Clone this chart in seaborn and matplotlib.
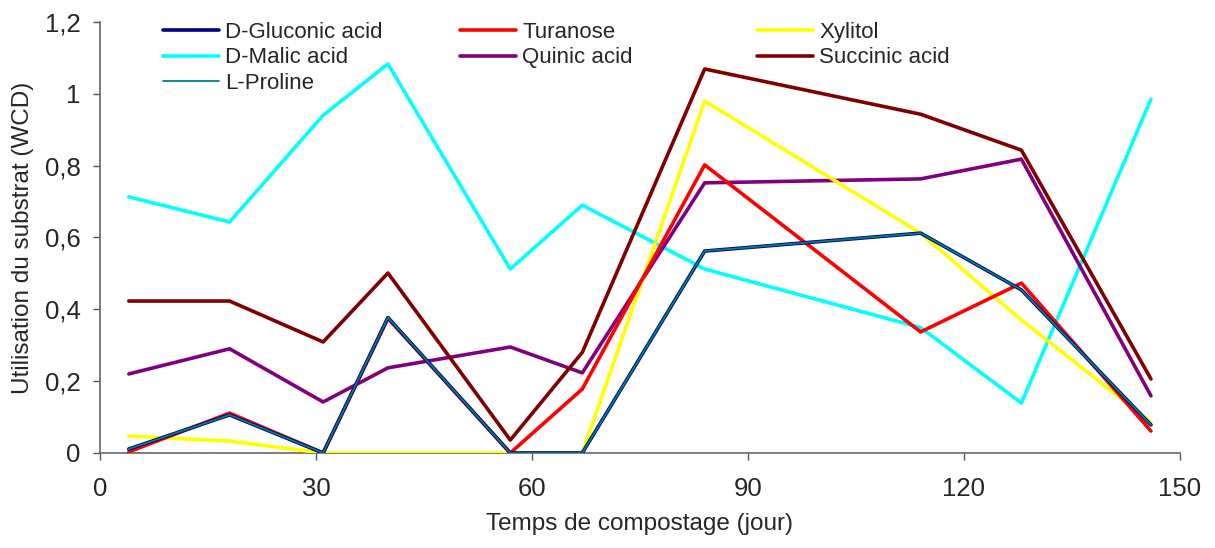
import numpy as np
import pandas as pd
import matplotlib.pyplot as plt
import seaborn as sns
from matplotlib.ticker import FuncFormatter

# compost age (days)
days = [4, 18, 31, 40, 57, 67, 84, 114, 128, 146]

gluconic = [0.011, 0.106, 0.0, 0.377, 0.0, 0.0, 0.562, 0.612, 0.454, 0.078]
turanose = [0.003, 0.111, 0.0, 0.375, 0.0, 0.178, 0.802, 0.337, 0.473, 0.061]
xylitol = [0.047, 0.033, 0.0, 0.0, 0.0, 0.0, 0.980, 0.612, 0.370, 0.086]
malic = [0.713, 0.643, 0.940, 1.083, 0.512, 0.690, 0.512, 0.349, 0.139, 0.985]
quinic = [0.220, 0.290, 0.142, 0.237, 0.295, 0.223, 0.752, 0.763, 0.818, 0.159]
succinic = [0.423, 0.423, 0.309, 0.501, 0.036, 0.280, 1.069, 0.943, 0.843, 0.206]
proline = gluconic

labels = ["D-Gluconic acid", "Turanose", "Xylitol",
          "D-Malic acid", "Quinic acid", "Succinic acid", "L-Proline"]
series = [gluconic, turanose, xylitol, malic, quinic, succinic, proline]
colors = ["#000080", "#FF0000", "#FFFF00", "#00FFFF", "#800080", "#800000", "#008080"]
widths = [2.6, 2.6, 2.6, 2.6, 2.6, 2.6, 1.3]

df = pd.concat([pd.DataFrame({"jour": days, "wcd": vals, "substrat": lab})
                for lab, vals in zip(labels, series)], ignore_index=True)

sns.set_style("white")
plt.rcParams["font.family"] = ["Liberation Sans", "DejaVu Sans"]

fig = plt.figure(figsize=(12.15, 5.48), dpi=100)
ax = fig.add_axes([0.0823, 0.1734, 0.971 - 0.0823, 0.96 - 0.1734])

# draw order: proline last, on top of gluconic
draw_order = [3, 4, 5, 2, 1, 0, 6]
handles = {}
for i in draw_order:
    sub = df[df["substrat"] == labels[i]]
    sns.lineplot(data=sub, x="jour", y="wcd", ax=ax, color=colors[i],
                 linewidth=widths[i], zorder=3 + (i == 6))
    handles[labels[i]] = ax.lines[-1]

ax.set_xlim(0, 150)
ax.set_ylim(0, 1.2)
ax.set_xticks(np.arange(0, 151, 30))
ax.set_yticks(np.arange(0, 1.21, 0.2))
ax.yaxis.set_major_formatter(FuncFormatter(lambda v, p: f"{v:.1f}".rstrip("0").rstrip(".").replace(".", ",")))
ax.tick_params(axis="both", labelsize=18.5, direction="out", length=5, width=1, color="#555555",
               bottom=True, left=True)
ax.tick_params(axis="x", pad=12)
ax.tick_params(axis="y", pad=9)
ax.set_xlabel("Temps de compostage (jour)", fontsize=17.5, labelpad=9)
ax.set_ylabel("Utilisation du substrat (WCD)", fontsize=17.5, labelpad=8)
for s in ["top", "right"]:
    ax.spines[s].set_visible(False)
for s in ["left", "bottom"]:
    ax.spines[s].set_color("#666666")
    ax.spines[s].set_linewidth(1.2)

# three fixed-width legend columns, as in the original
columns = [["D-Gluconic acid", "D-Malic acid", "L-Proline"],
           ["Turanose", "Quinic acid"],
           ["Xylitol", "Succinic acid"]]
col_x = [163, 460, 757]
for names, px in zip(columns, col_x):
    fig.legend([handles[n] for n in names], names, loc="upper left",
               bbox_to_anchor=(px / 1215, 1 - 22 / 548), frameon=False, fontsize=16,
               handlelength=2.5, handletextpad=0.3, labelspacing=0.2,
               borderpad=0, borderaxespad=0)

plt.savefig("out.png", dpi=100)
plt.close()
